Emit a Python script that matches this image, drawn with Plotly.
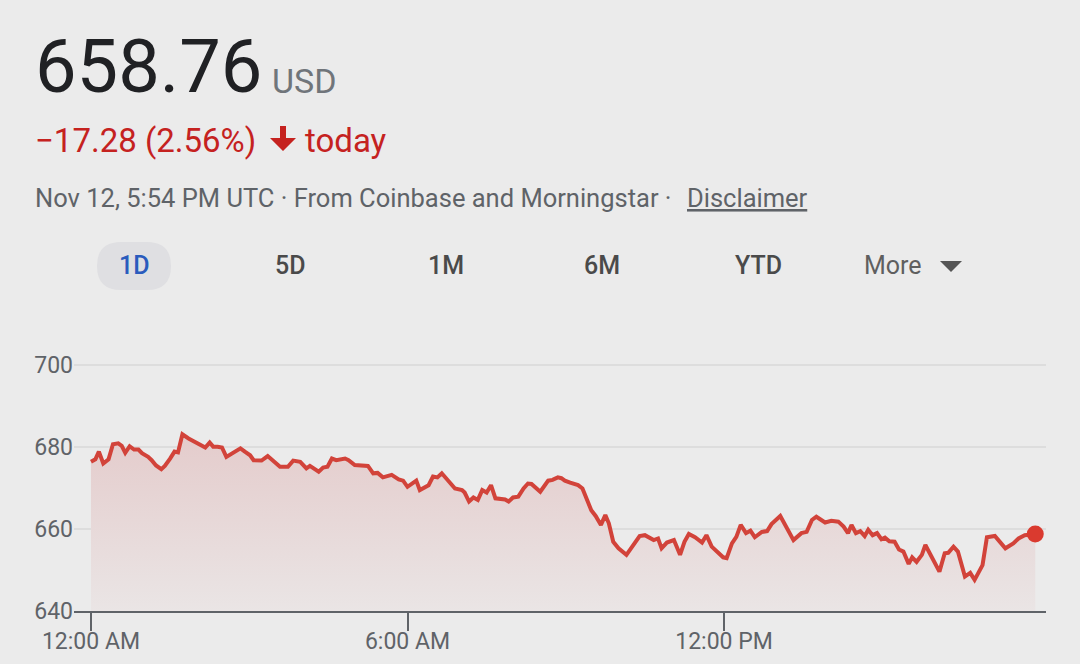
import plotly.graph_objects as go

# intraday price, Nov 12
day = "2024-11-12"
times = ["00:00", "00:05", "00:09", "00:14", "00:20", "00:25", "00:31", "00:35", "00:39", "00:44",
         "00:49", "00:54", "00:58", "01:05", "01:09", "01:14", "01:20", "01:24", "01:30", "01:35",
         "01:39", "01:44", "01:51", "01:56", "02:04", "02:10", "02:15", "02:19", "02:24", "02:29",
         "02:34", "02:42", "02:50", "02:55", "03:01", "03:05", "03:14", "03:21", "03:26", "03:35",
         "03:44", "03:50", "03:58", "04:05", "04:09", "04:14", "04:19", "04:24", "04:29", "04:34",
         "04:39", "04:49", "04:53", "05:00", "05:08", "05:15", "05:21", "05:26", "05:32", "05:42",
         "05:50", "05:55", "06:00", "06:04", "06:10", "06:14", "06:24", "06:29", "06:34", "06:39",
         "06:46", "06:54", "07:02", "07:05", "07:10", "07:15", "07:20", "07:25", "07:30", "07:35",
         "07:40", "07:47", "07:51", "07:55", "08:00", "08:06", "08:12", "08:17", "08:21", "08:31",
         "08:40", "08:45", "08:51", "08:55", "08:59", "09:05", "09:14", "09:19", "09:24", "09:29",
         "09:34", "09:40", "09:45", "09:49", "09:54", "10:00", "10:09", "10:17", "10:24", "10:30",
         "10:40", "10:45", "10:49", "10:55", "11:03", "11:10", "11:15", "11:20", "11:27", "11:35",
         "11:40", "11:46", "11:54", "11:59", "12:03", "12:09", "12:14", "12:19", "12:25", "12:30",
         "12:35", "12:43", "12:49", "12:54", "13:04", "13:19", "13:28", "13:34", "13:40", "13:45",
         "13:55", "14:02", "14:10", "14:16", "14:21", "14:25", "14:30", "14:35", "14:40", "14:44",
         "14:49", "14:54", "14:59", "15:03", "15:08", "15:14", "15:19", "15:24", "15:30", "15:34",
         "15:39", "15:45", "15:49", "15:56", "16:05", "16:11", "16:15", "16:21", "16:26", "16:34",
         "16:40", "16:45", "16:54", "16:59", "17:08", "17:20", "17:29", "17:35", "17:42", "17:54"]
prices = [676.4, 677.0, 678.9, 676.0, 677.0, 680.7, 680.9, 680.3, 678.6, 680.2,
          679.4, 679.4, 678.5, 677.6, 676.8, 675.5, 674.6, 675.4, 677.2, 678.9,
          678.7, 683.1, 682.1, 681.5, 680.7, 679.9, 681.1, 680.1, 680.1, 679.9,
          677.6, 678.6, 679.7, 678.9, 678.0, 676.8, 676.7, 677.8, 676.8, 675.2,
          675.2, 676.7, 676.4, 674.8, 675.4, 674.6, 674.0, 675.0, 675.2, 677.2,
          676.8, 677.2, 676.8, 675.6, 675.4, 675.4, 673.6, 673.7, 672.6, 673.2,
          672.1, 671.8, 670.3, 671.0, 671.8, 669.5, 670.7, 672.8, 672.6, 673.6,
          671.8, 669.9, 669.5, 668.9, 666.7, 667.7, 667.1, 669.5, 668.9, 670.7,
          667.5, 667.2, 667.2, 666.7, 667.7, 667.9, 669.9, 671.1, 671.0, 669.1,
          671.8, 672.0, 672.6, 672.4, 671.8, 671.3, 670.7, 669.9, 667.2, 664.6,
          663.2, 661.0, 663.4, 661.4, 656.9, 655.3, 653.7, 656.1, 658.3, 658.5,
          657.3, 657.7, 655.3, 656.7, 657.3, 653.7, 656.9, 658.8, 658.0, 656.7,
          658.5, 655.7, 654.1, 653.1, 652.9, 656.5, 658.1, 661.0, 659.0, 659.6,
          658.0, 659.3, 659.5, 661.2, 663.2, 657.3, 659.0, 659.3, 662.2, 663.0,
          661.6, 662.0, 661.8, 660.6, 659.0, 661.0, 659.0, 659.5, 658.3, 659.8,
          658.5, 659.0, 657.5, 657.9, 657.0, 656.9, 655.0, 654.5, 651.5, 653.1,
          652.0, 653.7, 656.1, 653.4, 649.6, 654.1, 654.2, 655.7, 654.5, 648.4,
          649.3, 647.6, 651.2, 658.0, 658.3, 655.3, 656.5, 657.7, 658.5, 658.76]

tick_times = ["00:00", "06:00", "12:00"]
tick_labels = ["12:00 AM", "6:00 AM", "12:00 PM"]
y_ticks = [640, 660, 680, 700]
tabs = ["1D", "5D", "1M", "6M", "YTD"]

BG = "#ebebeb"
RED = "#d2433a"
GREY = "#5f6368"

W, H = 1080, 664
L, R, T, B = 74, 34, 361, 53


def px(x):
    return (x - L) / (W - L - R)


def py(y):
    return (H - B - y) / (H - T - B)


xs = [f"{day} {t}" for t in times]

fig = go.Figure()
# baseline at the bottom of the value axis, so the area fill stops there
fig.add_trace(go.Scatter(x=xs, y=[y_ticks[0]] * len(xs), mode="lines",
                         line=dict(width=0), hoverinfo="skip"))
fig.add_trace(go.Scatter(
    x=xs, y=prices, mode="lines",
    line=dict(color=RED, width=4),
    fill="tonexty",
    fillgradient=dict(type="vertical", start=640, stop=684,
                      colorscale=[[0, "rgb(234,229,229)"], [1, "rgb(228,203,203)"]]),
    hoverinfo="skip",
))
fig.add_trace(go.Scatter(
    x=[xs[-1]], y=[prices[-1]], mode="markers",
    marker=dict(color="#da3a2f", size=17),
    hoverinfo="skip",
))

# header text
ann = []
ann.append(dict(text="658.76", x=px(33), y=py(67), font=dict(size=74, color="#202124")))
ann.append(dict(text="USD", x=px(270), y=py(81), font=dict(size=34, color="#70757a")))
ann.append(dict(text="−17.28 (2.56%)", x=px(33), y=py(140), font=dict(size=33, color="#c5221f")))
ann.append(dict(text="today", x=px(303), y=py(140), font=dict(size=33, color="#c5221f")))
ann.append(dict(text="Nov 12, 5:54 PM UTC · From Coinbase and Morningstar ·", x=px(33), y=py(198),
                font=dict(size=25.5, color=GREY)))
ann.append(dict(text="<u>Disclaimer</u>", x=px(685), y=py(198), font=dict(size=25.5, color=GREY)))
for a in ann:
    a.update(xref="paper", yref="paper", xanchor="left", yanchor="middle", showarrow=False)

tab_x = [134, 290, 446, 602, 758]
for name, cx in zip(tabs, tab_x):
    ann.append(dict(text=name, x=px(cx), y=py(265), xref="paper", yref="paper",
                    xanchor="center", yanchor="middle", showarrow=False,
                    font=dict(size=25, weight=500, color="#2a5bbd" if name == "1D" else "#4a4a4a")))
ann.append(dict(text="More", x=px(862), y=py(265), xref="paper", yref="paper",
                xanchor="left", yanchor="middle", showarrow=False,
                font=dict(size=25, color="#5f5f5f")))


def path(points):
    return "M " + " L ".join(f"{px(a)},{py(b)}" for a, b in points) + " Z"


def pill(x0, y0, x1, y1):
    r = (y1 - y0) / 2
    return (f"M {px(x0 + r)},{py(y0)} L {px(x1 - r)},{py(y0)} "
            f"Q {px(x1)},{py(y0)} {px(x1)},{py(y0 + r)} Q {px(x1)},{py(y1)} {px(x1 - r)},{py(y1)} "
            f"L {px(x0 + r)},{py(y1)} Q {px(x0)},{py(y1)} {px(x0)},{py(y0 + r)} "
            f"Q {px(x0)},{py(y0)} {px(x0 + r)},{py(y0)} Z")


shapes = [
    dict(type="path", path=pill(97, 242, 171, 290), xref="paper", yref="paper",
         fillcolor="#dfdfe2", line=dict(width=0), layer="below"),
    # down arrow
    dict(type="path", xref="paper", yref="paper", fillcolor="#c5221f", line=dict(width=0),
         path=path([(280, 126), (286, 126), (286, 138), (296, 138), (283, 151), (270, 138), (280, 138)])),
    # "More" caret
    dict(type="path", xref="paper", yref="paper", fillcolor="#555555", line=dict(width=0),
         path=path([(940, 261), (962, 261), (951, 272)])),
]

fig.update_layout(
    width=W, height=H,
    margin=dict(l=L, r=R, t=T, b=B),
    paper_bgcolor=BG, plot_bgcolor=BG,
    showlegend=False,
    hovermode=False,
    font=dict(family="Roboto", color=GREY),
    annotations=ann,
    shapes=shapes,
)
fig.update_xaxes(
    type="date", automargin=False,
    range=[f"2024-11-11 23:40:42", f"{day} 18:06:12"],
    tickvals=[f"{day} {t}" for t in tick_times], ticktext=tick_labels,
    ticks="outside", ticklen=18, tickwidth=2, tickcolor=GREY,
    showline=True, linecolor=GREY, linewidth=2,
    showgrid=False, zeroline=False,
    tickfont=dict(size=23, color=GREY),
    ticklabelstandoff=-10,
)
fig.update_yaxes(
    range=[640, 701], tickvals=y_ticks, automargin=False,
    showgrid=True, gridcolor="#dddddd", gridwidth=1.5,
    zeroline=False, showline=False, ticks="",
    tickfont=dict(size=23, color=GREY),
)

fig.write_html("out.html", config={"displayModeBar": False},
               post_script="document.body.style.margin = '0';")
